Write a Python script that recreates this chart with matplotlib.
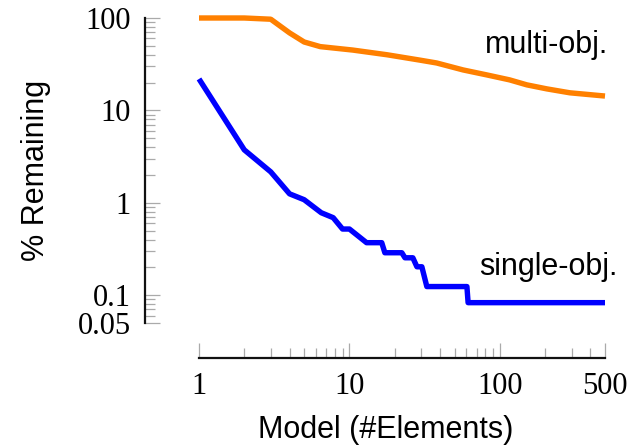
import matplotlib
matplotlib.use("Agg")
import matplotlib.pyplot as plt
from matplotlib.ticker import FixedLocator, FixedFormatter, LogLocator, NullFormatter

# Data
multi_x = [1, 2, 3, 4, 5, 6.4, 10.5, 17.8, 29.4, 38, 57, 82, 116, 151, 205, 292, 500]
multi_y = [100, 100, 97, 69, 55, 49, 45, 40, 35, 32.6, 27.4, 24.2, 21.4, 18.9, 17.1, 15.5, 14.3]

single_x = [1, 2, 3, 4, 5, 6.5, 7.8, 9, 10, 13, 16.4, 17.2, 22.3, 23.4, 26.4, 28.1,
            30.3, 32.7, 60.4, 61.5, 500]
single_y = [21.9, 3.74, 2.16, 1.25, 1.08, 0.78, 0.69, 0.52, 0.52, 0.37, 0.37, 0.288,
            0.288, 0.254, 0.254, 0.203, 0.203, 0.124, 0.124, 0.083, 0.083]

x_ticks = [1, 10, 100, 500]
x_tick_labels = ["1", "10", "100", "500"]
y_ticks = [0.05, 0.1, 1, 10, 100]
y_tick_labels = ["0.05", "0.1", "1", "10", "100"]

W, H = 642, 448
fig = plt.figure(figsize=(W / 100, H / 100), dpi=100)
ax = fig.add_axes([199 / W, (H - 323) / H, 406 / W, 305 / H])

ax.plot(multi_x, multi_y, color="#ff8000", lw=3.9, clip_on=False, solid_capstyle="butt")
ax.plot(single_x, single_y, color="#0000ff", lw=3.9, clip_on=False, solid_capstyle="butt")

ax.set_xscale("log")
ax.set_yscale("log")
ax.set_xlim(1, 500)
ax.set_ylim(0.05, 100)

ax.xaxis.set_major_locator(FixedLocator(x_ticks))
ax.xaxis.set_major_formatter(FixedFormatter(x_tick_labels))
ax.yaxis.set_major_locator(FixedLocator(y_ticks))
ax.yaxis.set_major_formatter(FixedFormatter(y_tick_labels))
ax.xaxis.set_minor_locator(LogLocator(base=10, subs=range(2, 10)))
ax.yaxis.set_minor_locator(LogLocator(base=10, subs=range(2, 10)))
ax.xaxis.set_minor_formatter(NullFormatter())
ax.yaxis.set_minor_formatter(NullFormatter())

for s in ["top", "right"]:
    ax.spines[s].set_visible(False)
ax.spines["left"].set_position(("outward", 54 * 0.72))
ax.spines["bottom"].set_position(("outward", 35 * 0.72))
for s in ["left", "bottom"]:
    ax.spines[s].set_linewidth(1.6)
    ax.spines[s].set_color("#111111")

tick_font = "Liberation Serif"
ax.tick_params(which="both", direction="in", color="#aaaaaa", width=0.9)
ax.tick_params(which="major", length=11)
ax.tick_params(which="minor", length=7.5)
ax.tick_params(axis="y", which="major", pad=10)
ax.tick_params(axis="x", which="major", pad=10)
for lab in ax.get_xticklabels() + ax.get_yticklabels():
    lab.set_fontfamily(tick_font)
    lab.set_fontsize(22)

sans = "Liberation Sans"
ax.text(1.007, 0.885, "multi-obj.", transform=ax.transAxes, ha="right", va="baseline",
        fontsize=22, family=sans)
ax.text(1.03, 0.157, "single-obj.", transform=ax.transAxes, ha="right", va="baseline",
        fontsize=22, family=sans)

fig.text(36 / W, 1 - 170 / H, "% Remaining", rotation=90, ha="center", va="center",
         fontsize=22, family=sans)
fig.text(386 / W, 1 - 430 / H, "Model (#Elements)", ha="center", va="center",
         fontsize=22, family=sans)

fig.savefig("out.png", dpi=100)
